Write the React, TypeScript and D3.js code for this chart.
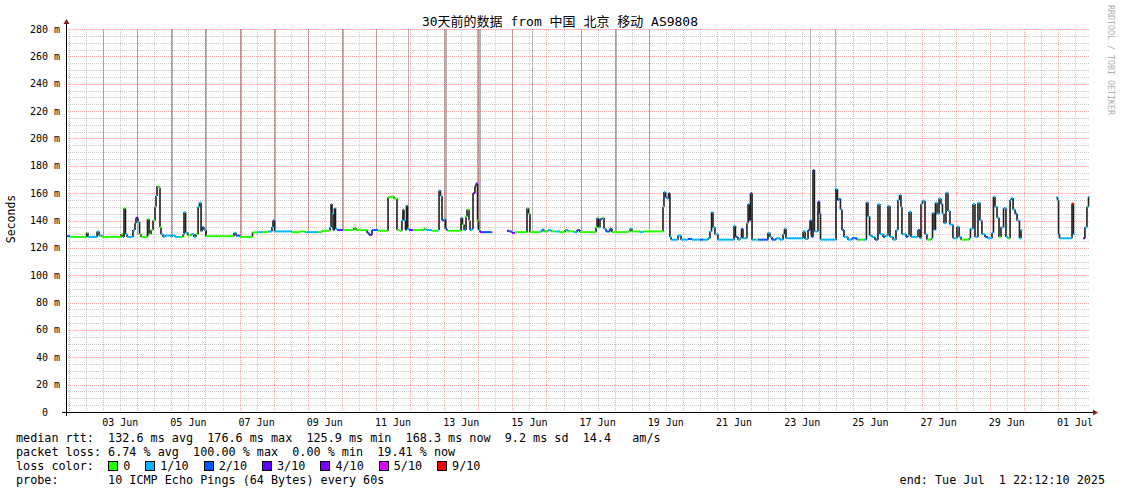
import React from 'react';
import * as d3 from 'd3';

// ---- data (hours since window start, median rtt in ms, loss in tenths) ----
const hours = [
  0.4, 2.5, 14.1, 15.1, 21.5, 22.9, 25.0, 38.4, 39.8, 40.5, 41.5, 42.6, 46.8, 48.2, 48.9, 50.3, 51.4, 52.4,
  57.0, 58.1, 59.5, 60.9, 62.3, 63.0, 63.7, 65.1, 65.8, 66.5, 67.9, 69.3, 73.5, 74.3, 76.4, 79.9, 82.0, 82.7,
  83.8, 85.5, 87.6, 89.7, 91.1, 92.6, 93.6, 94.7, 95.4, 96.8, 98.2, 117.9, 119.3, 122.1, 130.9, 134.8, 137.6,
  141.8, 144.6, 145.3, 146.4, 158.7, 164.3, 167.9, 177.0, 179.8, 185.5, 186.2, 186.9, 187.6, 188.6, 189.3,
  190.4, 192.5, 194.6, 202.3, 203.8, 211.5, 212.9, 215.0, 219.2, 226.3, 228.4, 230.5, 232.6, 234.7, 236.1,
  236.8, 237.5, 238.6, 239.3, 240.0, 241.1, 243.9, 251.6, 253.0, 257.2, 261.5, 262.2, 263.2, 264.3, 265.7,
  266.7, 267.8, 277.7, 278.7, 279.8, 281.2, 281.9, 283.3, 284.0, 285.4, 286.1, 287.5, 288.2, 289.3, 290.0,
  291.0, 293.1, 298.8, 299.8, 310.0, 311.4, 313.5, 315.7, 324.1, 325.2, 326.2, 333.3, 334.7, 336.1, 338.9,
  341.0, 344.5, 347.3, 350.9, 353.0, 357.2, 359.3, 361.4, 372.7, 373.4, 374.4, 375.5, 377.2, 378.3, 379.7,
  382.5, 383.9, 395.2, 396.6, 398.0, 403.6, 405.7, 419.8, 420.5, 421.6, 422.6, 423.7, 424.7, 425.5, 430.4,
  432.5, 437.4, 440.2, 445.9, 448.0, 451.5, 452.9, 454.0, 455.0, 456.4, 458.5, 469.8, 470.8, 472.6, 474.0,
  475.1, 476.1, 478.9, 479.7, 480.7, 481.4, 482.5, 485.3, 486.7, 493.7, 495.1, 496.5, 499.4, 502.2, 504.3,
  505.3, 506.4, 518.4, 519.8, 521.9, 523.3, 524.3, 525.4, 526.4, 528.9, 530.0, 530.7, 541.6, 542.6, 543.7,
  544.7, 545.8, 547.2, 550.0, 552.8, 556.4, 558.5, 561.3, 563.0, 564.1, 565.2, 566.9, 569.0, 571.1, 572.5,
  574.7, 576.1, 578.2, 579.6, 581.7, 583.8, 585.2, 586.3, 587.3, 588.0, 590.9, 592.3, 593.0, 594.4, 599.3,
  600.7, 601.4, 602.5, 604.2, 605.6, 608.5, 609.5, 610.6, 611.6, 612.7, 614.1, 615.5, 616.5, 617.6, 619.0,
  620.4, 621.8, 623.9, 626.7, 628.2, 629.6, 635.2, 636.2, 638.0, 639.4, 641.5, 642.9, 644.3, 646.4, 648.6,
  651.4, 652.4, 653.5, 654.9, 656.3, 657.7, 659.5, 661.2, 662.6, 664.1, 665.1, 666.2, 667.6, 669.0, 670.7,
  671.8, 672.8, 696.4, 697.5, 698.2, 698.9, 707.7, 708.7, 709.8, 715.4, 716.8, 718.2, 719.3,
];
const rtt: (number | null)[] = [
  128.5, 128, 131, 128, 132, 129, 128, 130, 128, 149, 130, 128, 133, 138, 142, 139, 130, 128,
  141, 130, 133, 140, 150, 158, 165, 164, 135, 130, 128, 129, 128, 129, 128, 128, 130, 146,
  131, 129, 130, 128, 130, 150, 153, 132, 135, 133, 128.5, 131, 129, 128, 131.3, 131.5, 131.5,
  132, 135, 140, 132, 131.5, 132, 131.5, 131.5, 132.5, 135, 152, 145, 133, 149, 134,
  133, 133, 133, 134.5, 133, 131, 129.5, 133, 132.5, 157, 157.5, 156, 133, 132.5, 140,
  148, 140, 133, 151, 134, 133, 133, 134, 133, 132.5, 133, 162, 158, 140, 141,
  134, 132.5, 142, 137, 133, 143, 148, 140, 133, 134, 160, 165, 167, 140, 133,
  131.5, 131.5, 131.5, null, 132.5, 132, 131, 131.5, 149, 145, 131.5, 132, 133.5, 132, 133,
  132, 132, 131.5, 133, 132, 131.5, 133, 131.5, 135, 142, 135, 141, 142, 134, 132,
  134, 131.5, 132, 134, 132, 131.5, 132, 150, 160.8, 157, 156, 160, 128, 126, 129,
  126, 126.5, 126, 126, 126, 127, 132, 146, 135, 130, 126, 136, 128, 126, 127,
  134, 127, 138, 152, 140, 160, 126, 126, 126, 131, 128, 126, 127, 126, 130,
  134, 127, 132, 126.5, 133, 140, 128, 177, 132, 153.7, 145, 126, 163, 155, 156,
  148, 133, 128, 126, 127, 126, 126, 126, 153.3, 143, 129, 128, 126, 151.8, 130,
  128, 129, 150.6, 128, 126, 133, 155, 158.6, 150, 130, 128, 129, 146.4, 128, 133,
  127, 152, 154.5, 130, 126, 127, 145.5, 133, 153, 145, 156, 152, 145, 138, 160.3,
  147, 137, 127, 135.5, 128, 126, 127, 134, 152, 128, 153, 140, 130, 128, 127,
  131, 157.4, 150, 142, 128, 135, 149, 128, 127, 155, 156.5, 148, 145, 140, 127,
  133, null, 157, 155, 130, 127, 152.5, 130, null, 127, 135, 150, 157.4,
];
const loss = [
  2, 0, 0, 1, 1, 1, 0, 0, 1, 0, 1, 1, 1, 2, 3, 1, 0, 0,
  0, 0, 0, 0, 0, 1, 0, 0, 0, 1, 1, 1, 0, 1, 1, 0, 0, 1,
  1, 0, 1, 1, 0, 1, 1, 0, 2, 1, 0, 1, 2, 0, 0, 1, 0,
  1, 1, 2, 1, 0, 0, 1, 0, 0, 1, 1, 1, 2, 1, 1,
  2, 3, 0, 0, 0, 2, 3, 2, 0, 0, 0, 0, 0, 0, 1,
  1, 1, 2, 1, 1, 3, 0, 0, 1, 0, 1, 1, 1, 2, 1,
  2, 0, 1, 0, 1, 0, 0, 0, 1, 2, 3, 4, 4, 0, 1,
  4, 2, 9, 0, 3, 2, 4, 0, 0, 0, 0, 1, 1, 0, 1,
  0, 1, 0, 1, 0, 1, 2, 0, 0, 0, 1, 2, 0, 1, 2,
  2, 0, 0, 1, 0, 1, 0, 0, 1, 2, 1, 2, 1, 1, 1,
  1, 2, 1, 2, 1, 1, 1, 1, 1, 1, 1, 1, 2, 1, 1,
  2, 1, 1, 1, 2, 2, 1, 0, 2, 1, 1, 2, 1, 1, 1,
  1, 1, 1, 1, 2, 2, 2, 2, 1, 3, 2, 1, 1, 2, 1,
  1, 2, 1, 1, 2, 1, 0, 1, 1, 1, 1, 1, 2, 1, 1,
  2, 1, 1, 1, 1, 1, 1, 1, 1, 1, 2, 1, 1, 1, 2,
  1, 1, 1, 1, 0, 1, 1, 1, 1, 1, 1, 2, 1, 1, 1,
  1, 1, 1, 1, 1, 0, 1, 1, 1, 1, 1, 1, 1, 2, 1,
  1, 1, 1, 1, 0, 1, 1, 1, 0, 1, 1, 1, 2, 1, 1,
  1, 0, 1, 1, 2, 1, 9, 1, 0, 3, 1, 1, 1,
];

// tall smoke columns (pings far above the chart top): start hour, duration (h), low, high
const smokeHours = [25.8, 49.8, 73.8, 97.8, 121.8, 145.8, 169.8, 193.8, 217.8, 240.4, 265.8, 289.1, 313.8, 327.6, 361.8, 385.8, 409.8, 523.3, 540.9];
const smokeSpan = [0.7, 0.7, 1.4, 1.4, 1.4, 1.4, 0.7, 1.4, 0.7, 0.7, 2.1, 2.8, 0.7, 0.7, 0.7, 1.4, 0.7, 0.7, 0.7];
const smokeLo = [128, 130, 129, 130, 129, 132, 132, 133, 133, 134, 134, 134, 132, 132, 132, 132, 132, 130, 128];
const smokeHi = [280, 280, 280, 280, 280, 280, 280, 280, 280, 280, 280, 280, 280, 280, 280, 280, 280, 280, 280];

const lossLevels = [0, 1, 2, 3, 4, 5, 9];
const lossLabels = ['0', '1/10', '2/10', '3/10', '4/10', '5/10', '9/10'];
const lossColors = ['#26ff00', '#00b8ff', '#0059ff', '#5e00ff', '#7e00ff', '#dd00ff', '#ff0000'];

const yMajor = [20, 40, 60, 80, 100, 120, 140, 160, 180, 200, 220, 240, 260, 280];
const yMinorStep = 5;

const title = '30天前的数据 from 中国 北京 移动 AS9808';
const legendLines = [
  'median rtt:  132.6 ms avg  176.6 ms max  125.9 ms min  168.3 ms now  9.2 ms sd  14.4   am/s',
  'packet loss: 6.74 % avg  100.00 % max  0.00 % min  19.41 % now',
];
const probeLine = 'probe:       10 ICMP Echo Pings (64 Bytes) every 60s';
const endLine = 'end: Tue Jul  1 22:12:10 2025';

const START = Date.UTC(2025, 5, 1, 22, 12, 10);
const END = START + 720 * 3600e3;
const MONO = '"DejaVu Sans Mono", monospace';
const LEG_FS = 11.78;
const CH = LEG_FS * 0.602;

const colorFor = (l: number) => lossColors[Math.max(0, lossLevels.indexOf(l))];
const PRE = { whiteSpace: 'pre' as const };

export default function App() {
  const x = d3.scaleUtc().domain([new Date(START), new Date(END)]).range([66.5, 1089.5]);
  const y = d3.scaleLinear().domain([0, 280]).range([412, 29]);
  const xh = (h: number) => x(new Date(START + h * 3600e3));

  const halfDays = d3.utcHour.every(12)!.range(new Date(START), new Date(END));
  const labelDays = d3.utcDay
    .range(new Date(START), new Date(END))
    .filter((d) => d.getUTCDate() % 2 === 1)
    .map((d) => new Date(d.getTime() + 12 * 3600e3))
    .filter((d) => d.getTime() < END);
  const fmt = d3.utcFormat('%d %b');
  const minorY = d3.range(0, 281, yMinorStep).filter((v) => v % 20 !== 0);

  const segs: React.ReactNode[] = [];
  const verts: React.ReactNode[] = [];
  for (let i = 0; i < hours.length; i++) {
    const v = rtt[i];
    if (v == null) continue;
    const x1 = xh(hours[i]);
    const x2 = i + 1 < hours.length ? xh(hours[i + 1]) : xh(720);
    const yy = y(v);
    segs.push(
      <line key={'h' + i} x1={x1} x2={x2} y1={yy} y2={yy} stroke={colorFor(loss[i])} strokeWidth={2} />
    );
    if (i + 1 < hours.length && rtt[i + 1] != null) {
      verts.push(
        <line key={'v' + i} x1={x2} x2={x2} y1={yy} y2={y(rtt[i + 1] as number)} stroke="#1e1e1e" strokeWidth={1.6} />
      );
    }
  }

  let lx = 16 + 13 * CH;
  const lossItems = lossLabels.map((lab, i) => {
    const item = { x: lx, lab, color: lossColors[i] };
    lx += 15 + lab.length * CH + 15;
    return item;
  });

  const PX0 = 67;
  const PX1 = 1090;
  const hLine = (v: number, fill: string, key: string) => (
    <rect key={key} x={PX0} y={Math.round(y(v))} width={PX1 - PX0} height={1} fill={fill} />
  );
  const vLine = (d: Date, fill: string, key: string) => (
    <rect key={key} x={Math.round(x(d))} y={29} width={1} height={383} fill={fill} />
  );

  return (
    <svg width={1121} height={494} style={{ position: 'absolute', left: 0, top: 0, background: '#fff' }} shapeRendering="crispEdges">
      <defs>
        <pattern id="hGray" width={2} height={1} patternUnits="userSpaceOnUse">
          <rect width={1} height={1} fill="#808080" fillOpacity={0.42} />
        </pattern>
        <pattern id="hRed" width={2} height={1} patternUnits="userSpaceOnUse">
          <rect width={1} height={1} fill="#ff2020" fillOpacity={0.4} />
        </pattern>
        <pattern id="vGray" width={1} height={2} patternUnits="userSpaceOnUse">
          <rect width={1} height={1} fill="#808080" fillOpacity={0.42} />
        </pattern>
        <pattern id="vRed" width={1} height={2} patternUnits="userSpaceOnUse">
          <rect width={1} height={1} fill="#ff2020" fillOpacity={0.42} />
        </pattern>
      </defs>
      <rect x={0} y={0} width={1121} height={494} fill="#fff" />
      {/* smoke (under the translucent grid) */}
      {smokeHours.map((h, i) => {
        const xa = Math.round(xh(h));
        const xb = Math.round(xh(h + smokeSpan[i]));
        return (
          <rect key={'s' + i} x={xa} y={Math.round(y(smokeHi[i]))} width={Math.max(1, xb - xa)} height={Math.round(y(smokeLo[i]) - y(smokeHi[i]))} fill="#b6b6b6" />
        );
      })}
      {/* grid */}
      {minorY.map((v) => hLine(v, 'url(#hGray)', 'my' + v))}
      {halfDays.filter((d) => d.getUTCHours() === 12).map((d) => vLine(d, 'url(#vGray)', 'mx' + d.getTime()))}
      {yMajor.map((v) => hLine(v, 'url(#hRed)', 'My' + v))}
      {halfDays.filter((d) => d.getUTCHours() === 0).map((d) => vLine(d, 'url(#vRed)', 'Mx' + d.getTime()))}
      {/* median */}
      <g shapeRendering="auto">
        {verts}
        {segs}
      </g>
      {/* axes */}
      <line x1={66.5} x2={66.5} y1={416} y2={24} stroke="#000" />
      <line x1={62} x2={1094} y1={412.5} y2={412.5} stroke="#000" />
      <g shapeRendering="auto">
        <path d="M63.5,24 L66.5,19 L69.5,24 Z" fill="#8b1a1a" />
        <path d="M1093,409.5 L1098,412.5 L1093,415.5 Z" fill="#8b1a1a" />
      </g>
      {/* y labels */}
      <g fontFamily={MONO} fontSize={10} fill="#000" shapeRendering="auto">
        {yMajor.map((v) => (
          <text key={'yl' + v} x={60} y={y(v) + 3.5} textAnchor="end" xmlSpace="preserve" style={PRE}>
            {`${v} m`}
          </text>
        ))}
        <text x={48} y={y(0) + 3.5} textAnchor="end">0</text>
        {labelDays.map((d) => (
          <text key={'xl' + d.getTime()} x={x(d)} y={426} textAnchor="middle" xmlSpace="preserve" style={PRE}>
            {fmt(d)}
          </text>
        ))}
      </g>
      {/* title */}
      <text x={560} y={26} textAnchor="middle" fontFamily={'"DejaVu Sans Mono", "Noto Sans CJK SC", monospace'} fontSize={13} fill="#000" xmlSpace="preserve" style={PRE}>
        {title}
      </text>
      <text transform="translate(15,219) rotate(-90)" textAnchor="middle" fontFamily={MONO} fontSize={11.5} fill="#000">
        Seconds
      </text>
      <text transform="translate(1107.5,5) rotate(90)" fontFamily={MONO} fontSize={8.3} fill="#b0b0b0" xmlSpace="preserve" style={PRE}>
        RRDTOOL / TOBI OETIKER
      </text>
      {/* legend */}
      <g fontFamily={MONO} fontSize={LEG_FS} fill="#000">
        {legendLines.map((t, i) => (
          <text key={'lg' + i} x={16} y={442 + i * 14} xmlSpace="preserve" style={PRE}>
            {t}
          </text>
        ))}
        <text x={16} y={470} xmlSpace="preserve" style={PRE}>loss color:</text>
        {lossItems.map((it) => (
          <g key={it.lab}>
            <rect x={Math.round(it.x) + 0.5} y={461.5} width={9} height={9} fill={it.color} stroke="#000" />
            <text x={it.x + 15} y={470}>{it.lab}</text>
          </g>
        ))}
        <text x={16} y={484} xmlSpace="preserve" style={PRE}>{probeLine}</text>
        <text x={1105} y={484} textAnchor="end" xmlSpace="preserve" style={PRE}>{endLine}</text>
      </g>
    </svg>
  );
}
